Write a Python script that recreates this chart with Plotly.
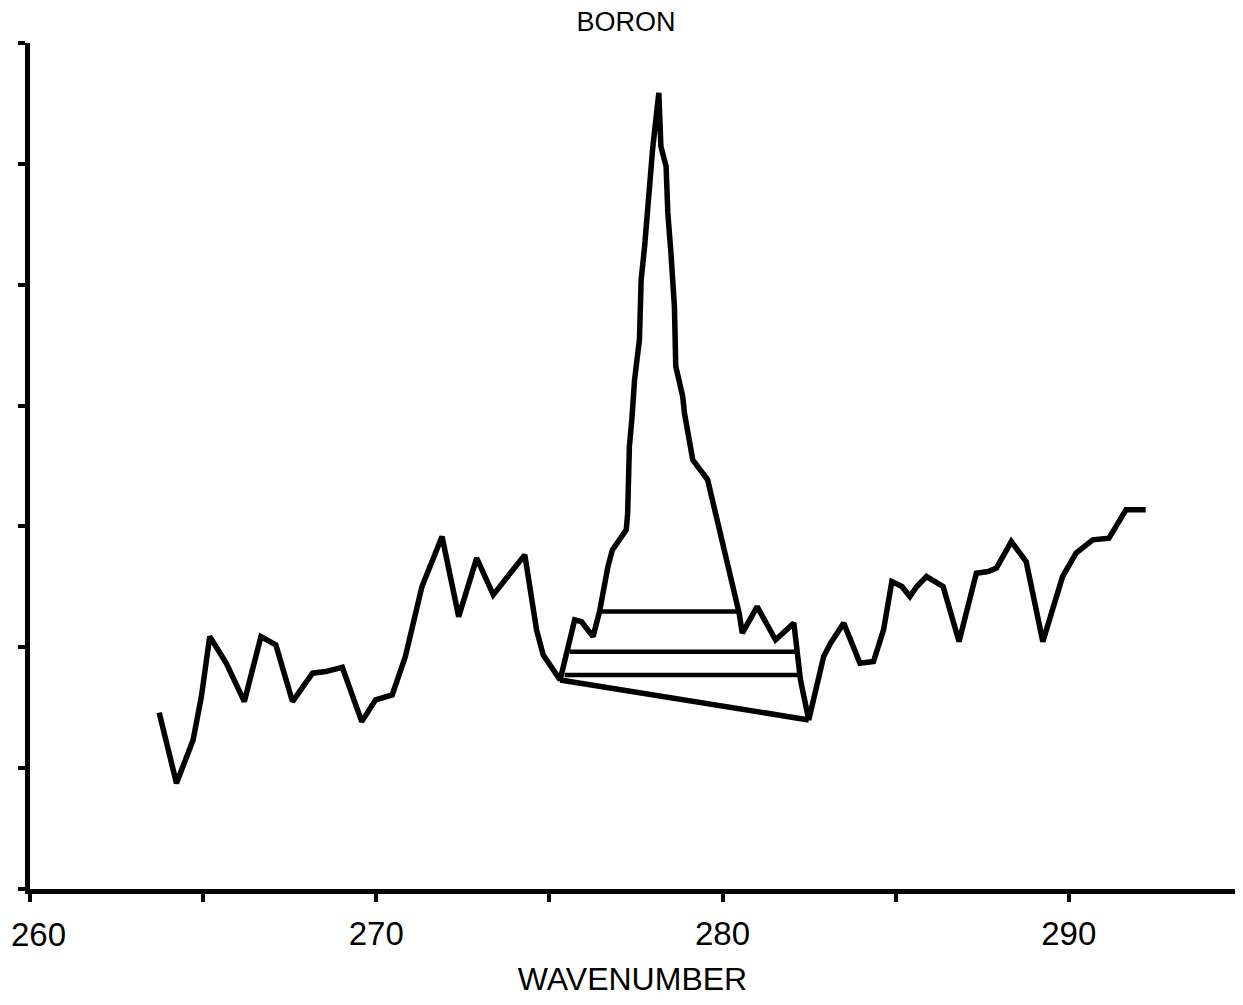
import plotly.graph_objects as go

# Spectrum (wavenumber vs. relative intensity, arbitrary units)
wavenumber = [
    263.73, 264.23, 264.71, 264.95, 265.19, 265.67, 266.19, 266.67, 267.10, 267.58,
    268.16, 268.54, 269.02, 269.58, 269.98, 270.46, 270.84, 271.32, 271.90, 272.38,
    272.90, 273.38, 273.91, 274.29, 274.63, 274.82, 275.31, 275.54, 275.73, 275.92,
    276.26, 276.45, 276.69, 276.82, 277.22, 277.26, 277.31, 277.38, 277.46, 277.60,
    277.65, 277.75, 277.84, 277.94, 277.98, 278.16, 278.19, 278.22, 278.37, 278.42,
    278.51, 278.61, 278.65, 278.85, 278.90, 279.14, 279.57, 279.76, 280.48, 280.57,
    281.00, 281.53, 282.06, 282.25, 282.49, 282.92, 283.12, 283.50, 283.97, 284.36,
    284.65, 284.89, 285.18, 285.41, 285.61, 285.89, 286.37, 286.83, 287.33, 287.67,
    287.91, 288.34, 288.77, 289.25, 289.82, 290.21, 290.69, 291.16, 291.65, 292.22,
]
intensity = [
    1.459, 0.875, 1.233, 1.592, 2.089, 1.868, 1.551, 2.089, 2.020, 1.551,
    1.786, 1.799, 1.835, 1.385, 1.565, 1.606, 1.923, 2.503, 2.916, 2.254,
    2.738, 2.434, 2.627, 2.765, 2.144, 1.937, 1.730, 1.978, 2.227, 2.213,
    2.089, 2.296, 2.668, 2.806, 2.972, 3.110, 3.661, 3.882, 4.214, 4.545,
    5.041, 5.317, 5.621, 5.897, 6.118, 6.587, 6.242, 6.145, 5.979, 5.594,
    5.262, 4.820, 4.324, 4.075, 3.938, 3.551, 3.386, 3.165, 2.282, 2.117,
    2.337, 2.061, 2.200, 1.730, 1.399, 1.923, 2.034, 2.200, 1.868, 1.882,
    2.144, 2.544, 2.503, 2.420, 2.503, 2.585, 2.503, 2.047, 2.613, 2.627,
    2.655, 2.875, 2.709, 2.047, 2.585, 2.779, 2.889, 2.903, 3.137, 3.137,
]

# Horizontal width levels across the peak
level_y = [2.296, 1.964, 1.771]
level_x0 = [276.45, 275.59, 275.44]
level_x1 = [280.43, 282.10, 282.25]

# Baseline under the peak
baseline_x = [275.31, 282.49]
baseline_y = [1.730, 1.399]

# Axis ticks (the first label, 260, sits at the very edge and is placed separately)
x_tickvals = [260, 265, 270, 275, 280, 285, 290, 295]
x_ticktext = ["", "", "270", "", "280", "", "290", ""]
first_tick_label = "260"
y_tickvals = [0, 1, 2, 3, 4, 5, 6, 7]

W, H = 1227, 989
ML = 22

fig = go.Figure()
fig.add_trace(go.Scatter(x=wavenumber, y=intensity, mode="lines",
                         line=dict(color="black", width=5.5), showlegend=False))
for ly, x0, x1 in zip(level_y, level_x0, level_x1):
    fig.add_trace(go.Scatter(x=[x0, x1], y=[ly, ly], mode="lines",
                             line=dict(color="black", width=4.5), showlegend=False))
fig.add_trace(go.Scatter(x=baseline_x, y=baseline_y, mode="lines",
                         line=dict(color="black", width=5.5), showlegend=False))

fig.add_annotation(text=first_tick_label, xref="paper", yref="paper", x=0, y=0,
                   xanchor="left", yanchor="middle", xshift=-ML + 1, yshift=-45,
                   showarrow=False, font=dict(size=33, color="black"))

fig.update_layout(
    width=W, height=H,
    paper_bgcolor="white", plot_bgcolor="white",
    margin=dict(l=ML, r=0, t=35, b=108, autoexpand=False),
    font=dict(family="Liberation Sans, Arial, sans-serif", color="black"),
    title=dict(text="BORON", x=618 / W, xref="container", y=1 - 14 / H,
               yref="container", xanchor="center", yanchor="middle",
               font=dict(size=27, color="black")),
    showlegend=False,
)
fig.update_xaxes(
    range=[260, 294.8], showgrid=False, zeroline=False, automargin=False,
    showline=True, linecolor="black", linewidth=5,
    ticks="outside", ticklen=8, tickwidth=3.5, tickcolor="black",
    tickvals=x_tickvals, ticktext=x_ticktext, ticklabelstandoff=3,
    tickfont=dict(size=33, color="black"),
    title=dict(text="WAVENUMBER", font=dict(size=32, color="black"), standoff=28),
)
fig.update_yaxes(
    range=[0, 7], showgrid=False, zeroline=False, automargin=False,
    showline=True, linecolor="black", linewidth=5,
    ticks="outside", ticklen=7, tickwidth=3.5, tickcolor="black",
    tickvals=y_tickvals, showticklabels=False,
)

fig.write_html("out.html")
